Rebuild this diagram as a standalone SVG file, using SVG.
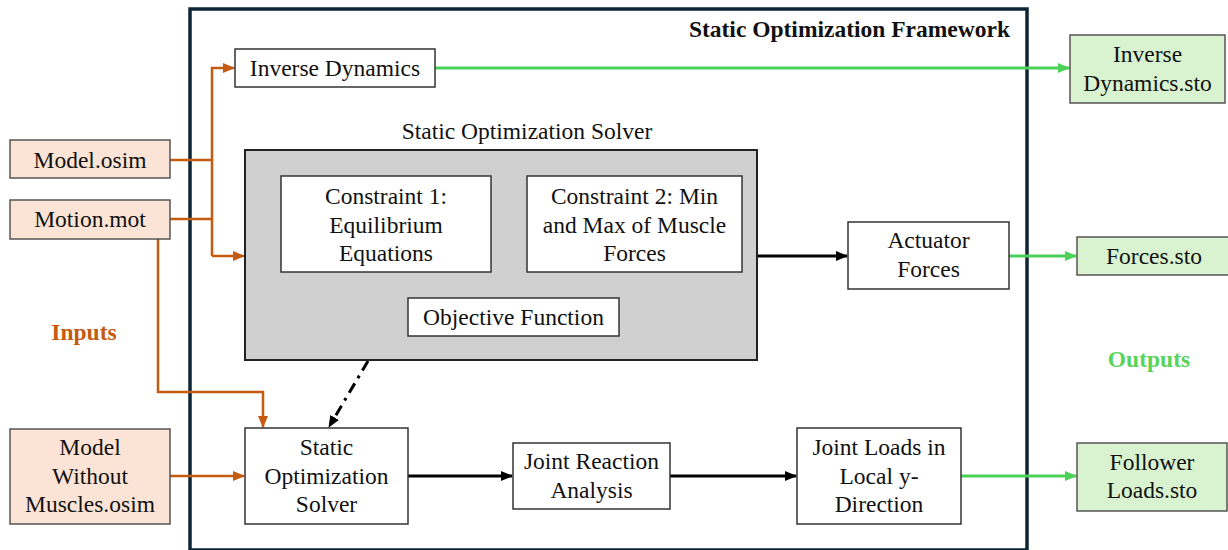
<svg xmlns="http://www.w3.org/2000/svg" width="1228" height="550" viewBox="0 0 1228 550" font-family="Liberation Serif, DejaVu Serif, serif">
<style>
text{font-family:'Liberation Serif','DejaVu Serif',serif;font-size:23.5px;fill:#111;text-anchor:middle}
.b{font-weight:bold}
.box{fill:#fff;stroke:#333;stroke-width:1.5}
.in{fill:#fbe4d6;stroke:#555;stroke-width:1.5}
.out{fill:#d9f2d0;stroke:#555;stroke-width:1.5}
.or{fill:none;stroke:#c55a11;stroke-width:2.5}
.gr{fill:none;stroke:#4cd158;stroke-width:3}
.bk{fill:none;stroke:#000;stroke-width:3}
</style>
<defs>
<marker id="ao" markerWidth="12" markerHeight="10" refX="11" refY="5" orient="auto" markerUnits="userSpaceOnUse"><path d="M0,0 L12,5 L0,10 Z" fill="#c55a11"/></marker>
<marker id="ag" markerWidth="12" markerHeight="10" refX="11" refY="5" orient="auto" markerUnits="userSpaceOnUse"><path d="M0,0 L12,5 L0,10 Z" fill="#4cd158"/></marker>
<marker id="ab" markerWidth="12" markerHeight="10" refX="11" refY="5" orient="auto" markerUnits="userSpaceOnUse"><path d="M0,0 L12,5 L0,10 Z" fill="#000"/></marker>
</defs>
<rect width="1228" height="550" fill="#fff"/>
<g id="framework">
<rect x="190" y="9" width="837" height="541" fill="none" stroke="#0d2535" stroke-width="3.5"/>
<text class="b" x="1010" y="37" style="text-anchor:end">Static Optimization Framework</text>
</g>
<g id="connectors">
<path class="or" d="M170,160 H212"/>
<path class="or" d="M170,219 H212"/>
<path class="or" d="M212,256 V68 H234" marker-end="url(#ao)"/>
<path class="or" d="M212,256 H244" marker-end="url(#ao)"/>
<path class="or" d="M158,239 V392 H263 V427" marker-end="url(#ao)"/>
<path class="or" d="M170,476 H244" marker-end="url(#ao)"/>
<path class="gr" d="M435,68 H1069" marker-end="url(#ag)"/>
<path class="gr" d="M1009,256 H1076" marker-end="url(#ag)"/>
<path class="gr" d="M961,476 H1076" marker-end="url(#ag)"/>
<path class="bk" d="M757,256 H847" marker-end="url(#ab)"/>
<path class="bk" d="M408,476 H512" marker-end="url(#ab)"/>
<path class="bk" d="M670,476 H796" marker-end="url(#ab)"/>
<path class="bk" d="M368,361 L329,427" stroke-dasharray="11,6,3,6" marker-end="url(#ab)"/>
</g>
<g id="inverse-dynamics"><rect class="box" x="235" y="49" width="200" height="38"/><text x="335" y="76">Inverse Dynamics</text></g>
<g id="model-osim"><rect class="in" x="10" y="140" width="160" height="38"/><text x="90" y="168">Model.osim</text></g>
<g id="motion-mot"><rect class="in" x="10" y="200" width="160" height="39"/><text x="90" y="227">Motion.mot</text></g>
<g id="model-without"><rect class="in" x="10" y="429" width="160" height="95"/><text x="90" y="455">Model</text><text x="90" y="484">Without</text><text x="90" y="512">Muscles.osim</text></g>
<g id="inputs-label"><text class="b" x="84" y="340" style="fill:#c55a11">Inputs</text></g>
<g id="outputs-label"><text class="b" x="1149" y="367" style="fill:#5ad35a">Outputs</text></g>
<g id="solver-group">
<text x="527" y="139">Static Optimization Solver</text>
<rect x="245" y="150" width="512" height="210" fill="#d0d0d0" stroke="#222" stroke-width="2"/>
</g>
<g id="constraint1"><rect class="box" x="281" y="176" width="210" height="96"/><text x="386" y="204">Constraint 1:</text><text x="386" y="233">Equilibrium</text><text x="386" y="261">Equations</text></g>
<g id="constraint2"><rect class="box" x="527" y="176" width="215" height="96"/><text x="634.5" y="204">Constraint 2: Min</text><text x="634.5" y="233">and Max of Muscle</text><text x="634.5" y="261">Forces</text></g>
<g id="objective"><rect class="box" x="408" y="298" width="211" height="38"/><text x="513.5" y="325">Objective Function</text></g>
<g id="actuator"><rect class="box" x="848" y="222" width="161" height="67"/><text x="928.5" y="248">Actuator</text><text x="928.5" y="277">Forces</text></g>
<g id="inv-sto"><rect class="out" x="1070" y="35" width="155" height="68"/><text x="1147.5" y="62">Inverse</text><text x="1147.5" y="91">Dynamics.sto</text></g>
<g id="forces-sto"><rect class="out" x="1077" y="237" width="152" height="38"/><text x="1154" y="264">Forces.sto</text></g>
<g id="follower-sto"><rect class="out" x="1077" y="443" width="150" height="68"/><text x="1152" y="470">Follower</text><text x="1152" y="498">Loads.sto</text></g>
<g id="so-solver"><rect class="box" x="245" y="428" width="163" height="96"/><text x="326.5" y="455">Static</text><text x="326.5" y="484">Optimization</text><text x="326.5" y="512">Solver</text></g>
<g id="joint-reaction"><rect class="box" x="513" y="443" width="157" height="66"/><text x="591.5" y="469">Joint Reaction</text><text x="591.5" y="498">Analysis</text></g>
<g id="joint-loads"><rect class="box" x="797" y="428" width="164" height="96"/><text x="879" y="455">Joint Loads in</text><text x="879" y="484">Local y-</text><text x="879" y="512">Direction</text></g>
</svg>
